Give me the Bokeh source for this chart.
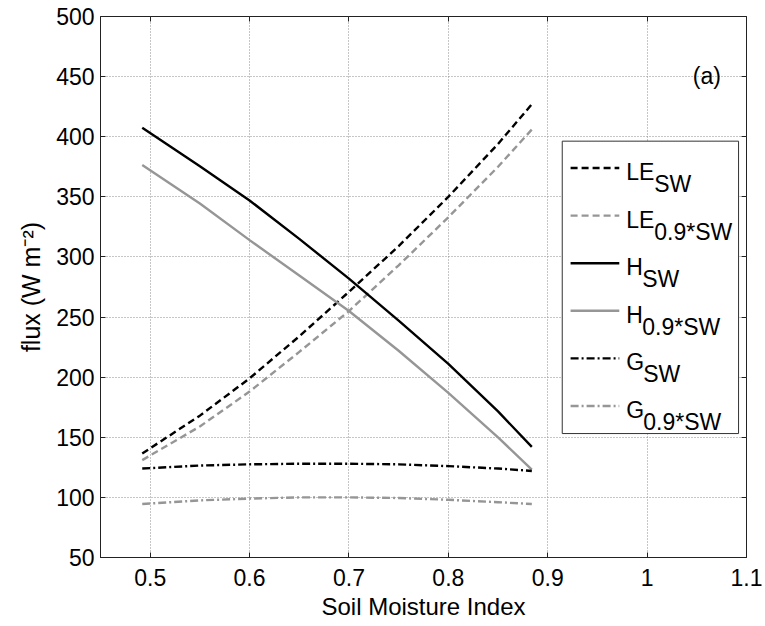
import numpy as np
from bokeh.plotting import figure
from bokeh.models import Range1d, FixedTicker, LinearAxis
from bokeh.core.properties import value
from bokeh.embed import file_html
from bokeh.resources import INLINE

# ---------------- data ----------------
smi = [0.492, 0.55, 0.6, 0.65, 0.7, 0.75, 0.8, 0.85, 0.884]
le_sw = [136.5, 168, 199, 234, 271, 309, 350, 394, 427]
le_09 = [131, 159, 188, 221, 255, 293, 333, 375, 406]
h_sw = [407.5, 375.5, 347, 315, 282, 247, 211, 171.5, 142]
h_09 = [376.5, 344.5, 314, 284.5, 255, 222, 187, 150, 123]
g_sw = [124, 126.5, 127.5, 128, 128, 127.5, 126, 124, 122]
g_09 = [94.5, 97.5, 99, 100, 100, 99.5, 98, 96, 94.5]

leg_main = ["LE", "LE", "H", "H", "G", "G"]
leg_sub = ["SW", "0.9*SW", "SW", "0.9*SW", "SW", "0.9*SW"]

x_ticks = [0.5, 0.6, 0.7, 0.8, 0.9, 1, 1.1]
x_tick_labels = ["0.5", "0.6", "0.7", "0.8", "0.9", "1", "1.1"]
y_ticks = [50, 100, 150, 200, 250, 300, 350, 400, 450, 500]
x_title = "Soil Moisture Index"
y_title = "flux (W m\u207b\u00b2)"
panel_label = "(a)"

# ---------------- styles ----------------
FONT = "Liberation Sans"
BLACK = "#000000"
GRAY = "#969696"
DASH = "7 4"
DASHDOT = "8 3 2 3"
LW = 2.4

series = [
    (le_sw, BLACK, DASH),
    (le_09, GRAY, DASH),
    (h_sw, BLACK, "solid"),
    (h_09, GRAY, "solid"),
    (g_sw, BLACK, DASHDOT),
    (g_09, GRAY, DASHDOT),
]

p = figure(width=765, height=626, output_backend="svg", toolbar_location=None,
           x_range=Range1d(0.45, 1.1), y_range=Range1d(50, 500),
           min_border_left=100, min_border_right=19, min_border_top=16, min_border_bottom=69)
p.background_fill_color = "white"
p.border_fill_color = "white"
p.outline_line_color = "#222222"
p.outline_line_width = 1

for ax in [p.xaxis[0], p.yaxis[0]]:
    ax.major_label_text_font = FONT
    ax.major_label_text_font_size = "23px"
    ax.major_label_text_color = "black"
    ax.axis_label_text_font = FONT
    ax.axis_label_text_font_style = "normal"
    ax.axis_label_text_color = "black"
    ax.major_tick_in = 5
    ax.major_tick_out = 0
    ax.minor_tick_in = 0
    ax.minor_tick_out = 0
    ax.axis_line_color = "#222222"
    ax.major_tick_line_color = "#222222"

p.xaxis.axis_label_text_font_size = "24px"
p.yaxis.axis_label_text_font_size = "25px"
p.xaxis.ticker = FixedTicker(ticks=x_ticks)
p.xaxis.major_label_overrides = {t: l for t, l in zip(x_ticks, x_tick_labels)}
p.yaxis.ticker = FixedTicker(ticks=y_ticks)
p.xaxis.axis_label = x_title
p.yaxis.axis_label = y_title
p.xaxis.major_label_standoff = 11
p.yaxis.major_label_standoff = 6
p.xaxis.axis_label_standoff = 4
p.yaxis.axis_label_standoff = 8

# box ticks on top/right
ax_r = LinearAxis(ticker=FixedTicker(ticks=y_ticks), major_tick_in=5, major_tick_out=0,
                  minor_tick_in=0, minor_tick_out=0, axis_line_color=None,
                  major_tick_line_color="#222222",
                  major_label_overrides={t: "" for t in y_ticks})
ax_t = LinearAxis(ticker=FixedTicker(ticks=x_ticks), major_tick_in=5, major_tick_out=0,
                  minor_tick_in=0, minor_tick_out=0, axis_line_color=None,
                  major_tick_line_color="#222222",
                  major_label_overrides={t: "" for t in x_ticks})
p.add_layout(ax_r, "right")
p.add_layout(ax_t, "above")

p.xgrid.ticker = FixedTicker(ticks=x_ticks)
p.ygrid.ticker = FixedTicker(ticks=y_ticks)
p.grid.grid_line_color = "#8c8c8c"
p.grid.grid_line_dash = "1 2"
p.grid.grid_line_width = 1

for ys, col, dash in series:
    p.line(smi, ys, line_color=col, line_width=LW, line_dash=dash)

# panel label
p.text(x=[1.046], y=[450.5], text=[panel_label], text_font=value(FONT),
       text_font_size="23px", text_baseline="alphabetic", text_align="left", text_color="black")

# ---------------- legend (drawn manually for subscripts) ----------------
p.quad(left=[0.9146], right=[1.092], top=[396.3], bottom=[153.1],
       fill_color="white", fill_alpha=1.0, line_color="#333333", line_width=1)

y0 = 374.0
dy = 39.6
line_x0, line_x1 = 0.923, 0.972
text_x = 0.979
sub_dx = {"LE": 28, "H": 16, "G": 17}
for i, (main, sub) in enumerate(zip(leg_main, leg_sub)):
    ys, col, dash = series[i]
    yy = y0 - i * dy
    p.line([line_x0, line_x1], [yy, yy], line_color=col, line_width=LW, line_dash=dash)
    p.text(x=[text_x], y=[yy], text=[main], text_font=value(FONT), text_font_size="23px",
           text_baseline="alphabetic", y_offset=4, text_color="black")
    p.text(x=[text_x], y=[yy], text=[sub], text_font=value(FONT), text_font_size="23px",
           text_baseline="alphabetic", x_offset=sub_dx[main], y_offset=16, text_color="black")

open("out.html", "w").write(file_html(p, INLINE))
